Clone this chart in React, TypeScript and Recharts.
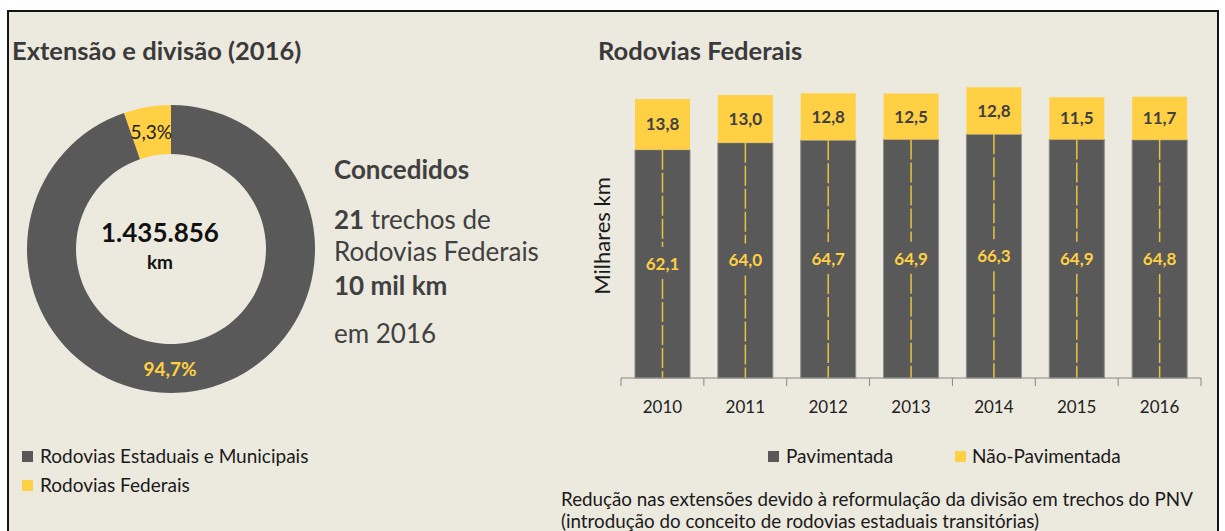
import { BarChart, Bar, XAxis, YAxis, LabelList, PieChart, Pie, Cell } from 'recharts';

// Rodovias Federais (milhares km)
const YEARS = ['2010', '2011', '2012', '2013', '2014', '2015', '2016'];
const PAVED = [62.1, 64.0, 64.7, 64.9, 66.3, 64.9, 64.8];
const UNPAVED = [13.8, 13.0, 12.8, 12.5, 12.8, 11.5, 11.7];

// Extensão e divisão (2016)
const PIE_NAMES = ['Rodovias Federais', 'Rodovias Estaduais e Municipais'];
const PIE_SHARES = [5.3, 94.7];
const TOTAL_KM = '1.435.856';

const GRAY = '#595959';
const YELLOW = '#FFD043';
const TEXT = '#404040';
const BG = '#ECE9DF';
const FONT = "Lato, 'Open Sans', sans-serif";

const PLOT_W = 580;
const BAND = PLOT_W / YEARS.length;

const barData = YEARS.map((year, i) => ({ year, paved: PAVED[i], unpaved: UNPAVED[i] }));
const pieData = PIE_NAMES.map((name, i) => ({ name, value: PIE_SHARES[i] }));
const PIE_COLORS = [YELLOW, GRAY];

const fmt = (v: number) => v.toFixed(1).replace('.', ',');

// gray bar with a dashed "road marking" down the middle
const PavedShape = (props: any) => {
  const { x, y, width, height } = props;
  const cx = x + width / 2;
  const mid = y + height / 2;
  return (
    <g>
      <rect x={x} y={y} width={width} height={height} fill={GRAY} stroke="#8c8c8c" strokeWidth={1} />
      <line x1={cx} y1={y} x2={cx} y2={mid - 17} stroke="#E8C33C" strokeWidth={1.5} strokeDasharray="20 3" />
      <line x1={cx} y1={mid + 15} x2={cx} y2={y + height} stroke="#E8C33C" strokeWidth={1.5} strokeDasharray="20 3" />
    </g>
  );
};

const YearTick = ({ x, y, payload, index }: any) => (
  <g>
    <line x1={x - BAND / 2} y1={y} x2={x - BAND / 2} y2={y + 8} stroke="#888" />
    {index === YEARS.length - 1 && (
      <line x1={x + BAND / 2} y1={y} x2={x + BAND / 2} y2={y + 8} stroke="#888" />
    )}
    <text x={x} y={y + 35} textAnchor="middle" fontSize={17} fill="#222" fontFamily={FONT}>
      {payload.value}
    </text>
  </g>
);

const RAD = Math.PI / 180;
const pieLabel = (props: any) => {
  const { cx, cy, midAngle, innerRadius, outerRadius, index } = props;
  const r = (innerRadius + outerRadius) / 2;
  const angle = index === 1 ? 271 : midAngle;
  const lx = cx + r * Math.cos(-angle * RAD) - (index === 1 ? 3 : 0);
  const ly = cy + r * Math.sin(-angle * RAD);
  return (
    <text
      x={lx}
      y={ly}
      textAnchor="middle"
      dominantBaseline="central"
      fontSize={19}
      fontWeight={index === 1 ? 700 : 400}
      fill={index === 1 ? YELLOW : '#1a1a1a'}
      fontFamily={FONT}
    >
      {fmt(PIE_SHARES[index])}%
    </text>
  );
};

export default function App() {
  return (
    <div style={{ position: 'fixed', left: 0, top: 0, width: 1225, height: 531, background: '#fff', overflow: 'hidden', fontFamily: FONT }}>
      <div
        style={{
          position: 'absolute', left: 7, top: 10, width: 1212, height: 560,
          background: BG, border: '2px solid #151515', boxSizing: 'border-box',
        }}
      />

      {/* donut */}
      <div style={{ position: 'absolute', left: 6, top: 84 }}>
        <PieChart width={320} height={320}>
          <Pie
            data={pieData}
            dataKey="value"
            cx={160}
            cy={160}
            innerRadius={95}
            outerRadius={144}
            startAngle={90}
            endAngle={450}
            stroke="none"
            label={pieLabel}
            labelLine={false}
            isAnimationActive={false}
          >
            {pieData.map((_, i) => (
              <Cell key={i} fill={PIE_COLORS[i]} />
            ))}
          </Pie>
        </PieChart>
      </div>

      {/* stacked bars */}
      <div style={{ position: 'absolute', left: 560, top: 0 }}>
        <BarChart width={660} height={531} data={barData} margin={{ top: 84, right: 19, left: 61, bottom: 103 }}>
          <XAxis
            dataKey="year"
            height={50}
            axisLine={{ stroke: '#888' }}
            tickLine={false}
            tickSize={0}
            tickMargin={0}
            interval={0}
            tick={<YearTick />}
          />
          <YAxis hide domain={[0, 80]} />
          <Bar dataKey="paved" stackId="a" barSize={55} shape={<PavedShape />} isAnimationActive={false}>
            <LabelList dataKey="paved" position="center" formatter={(v: any) => fmt(Number(v))} fill={YELLOW} fontSize={17} fontWeight={700} fontFamily={FONT} />
          </Bar>
          <Bar dataKey="unpaved" stackId="a" barSize={55} fill={YELLOW} isAnimationActive={false}>
            <LabelList dataKey="unpaved" position="center" formatter={(v: any) => fmt(Number(v))} fill={TEXT} fontSize={17} fontWeight={700} fontFamily={FONT} />
          </Bar>
        </BarChart>
      </div>

      {/* texts */}
      <svg width={1225} height={531} style={{ position: 'absolute', left: 0, top: 0, pointerEvents: 'none' }} fontFamily={FONT}>
        <text x={12} y={60} fontSize={25.5} fontWeight={700} fill="#3a3a3a">Extensão e divisão (2016)</text>
        <text x={598} y={60} fontSize={25.5} fontWeight={700} fill="#3a3a3a">Rodovias Federais</text>

        <text x={160} y={242} textAnchor="middle" fontSize={26} fontWeight={700} fill="#111">{TOTAL_KM}</text>
        <text x={160} y={269} textAnchor="middle" fontSize={19} fontWeight={700} fill="#111">km</text>

        <g fill={TEXT} fontSize={26}>
          <text x={334} y={179} fontWeight={700}>Concedidos</text>
          <text x={334} y={229}><tspan fontWeight={700}>21</tspan> trechos de</text>
          <text x={334} y={261}>Rodovias Federais</text>
          <text x={334} y={295} fontWeight={700}>10 mil km</text>
          <text x={334} y={343}>em 2016</text>
        </g>

        <text x={0} y={0} transform="translate(610,236) rotate(-90)" textAnchor="middle" fontSize={22} fill="#1a1a1a">Milhares km</text>

        {/* legends */}
        <g fontSize={19} fill="#1a1a1a">
          <rect x={22} y={451} width={11} height={11} fill={GRAY} />
          <text x={40} y={463}>{PIE_NAMES[1]}</text>
          <rect x={22} y={480} width={11} height={11} fill={YELLOW} />
          <text x={40} y={492}>{PIE_NAMES[0]}</text>

          <rect x={768} y={451} width={11} height={11} fill={GRAY} />
          <text x={786} y={463}>Pavimentada</text>
          <rect x={955} y={451} width={11} height={11} fill={YELLOW} />
          <text x={972} y={463}>Não-Pavimentada</text>
        </g>

        <g fontSize={18.8} fill="#1a1a1a">
          <text x={561} y={506}>Redução nas extensões devido à reformulação da divisão em trechos do PNV</text>
          <text x={561} y={528}>(introdução do conceito de rodovias estaduais transitórias)</text>
        </g>
      </svg>
    </div>
  );
}
